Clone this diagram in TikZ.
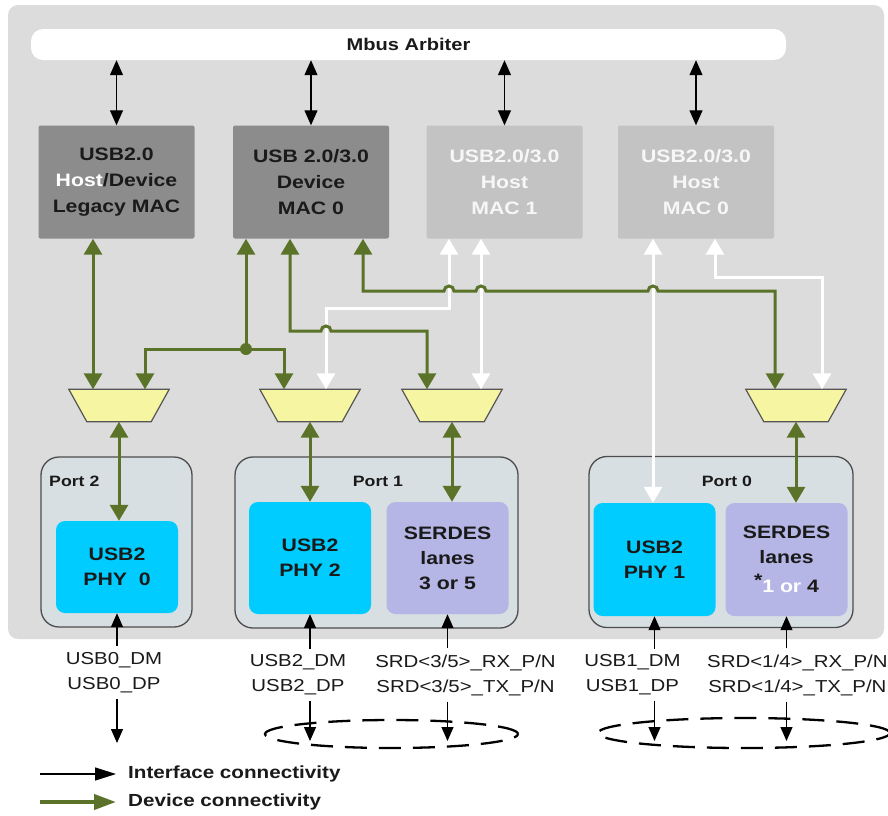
\documentclass[tikz,border=0pt]{standalone}
\usepackage{fontspec}
\setmainfont{Liberation Sans}
\newfontfamily\widefont{Liberation Sans}[FakeStretch=1.18]
\usetikzlibrary{arrows.meta,calc,shapes.geometric}

\definecolor{boardgray}{HTML}{DCDCDC}
\definecolor{macdark}{HTML}{8C8C8C}
\definecolor{maclight}{HTML}{C3C3C3}
\definecolor{portfill}{HTML}{D7DFE2}
\definecolor{portline}{HTML}{4D4D4D}
\definecolor{phycyan}{HTML}{00CCFF}
\definecolor{serdesfill}{HTML}{B5B5E6}
\definecolor{muxfill}{HTML}{F6F6A2}
\definecolor{muxline}{HTML}{555555}
\definecolor{devgreen}{HTML}{5A7328}
\definecolor{textdark}{HTML}{1A1A1A}

\tikzset{
  gtip/.tip={Triangle[width=18pt,length=16pt]},
  btip/.tip={Triangle[width=12pt,length=14pt]},
  mtip/.tip={Triangle[width=13pt,length=15pt]},
}

\begin{document}
\begin{tikzpicture}[x=1pt,y=-1pt,
  boxfont/.style={font=\widefont\fontsize{18}{25}\selectfont\bfseries},
  board/.style={fill=boardgray, rounded corners=10pt, minimum width=876pt, minimum height=634pt, inner sep=0pt},
  arbiter/.style={fill=white, rounded corners=12pt, minimum width=755pt, minimum height=31pt, inner sep=0pt,
    font=\widefont\fontsize{17}{17}\selectfont\bfseries, text=textdark},
  mac/.style={rounded corners=2pt, minimum width=156pt, minimum height=113pt, inner sep=0pt, align=center,
    font=\widefont\fontsize{18}{26}\selectfont\bfseries},
  macd/.style={mac, fill=macdark, text=textdark},
  macl/.style={mac, fill=maclight, text=white!94!gray},
  port/.style={fill=portfill, draw=portline, line width=1.3pt, rounded corners=18pt, inner sep=0pt},
  portlabel/.style={font=\widefont\fontsize{15}{15}\selectfont\bfseries, text=textdark, inner sep=0pt},
  phy/.style={fill=phycyan, rounded corners=9pt, inner sep=0pt, align=center, boxfont, text=textdark, minimum width=122pt},
  lane/.style={phy, fill=serdesfill},
  muxbox/.style={minimum width=100pt, minimum height=32pt, inner sep=0pt},
  muxshape/.style={fill=muxfill, draw=muxline, line width=1.2pt, line join=miter},
  gline/.style={draw=devgreen, line width=3pt, gtip-gtip},
  wline/.style={draw=white, line width=3pt, gtip-gtip},
  bline/.style={draw=black, line width=1.2pt, btip-btip},
  busline/.style={draw=black, line width=1.2pt, mtip-mtip},
  sig/.style={font=\widefont\fontsize{17.3}{25}\selectfont, text=textdark, align=center, inner sep=6pt},
  ring/.style={ellipse, draw=black, line width=2.3pt, dash pattern=on 22pt off 12pt, inner sep=0pt},
  keytext/.style={font=\widefont\fontsize{17.5}{17.5}\selectfont\bfseries, text=textdark, inner sep=0pt, anchor=west},
]
\fill[white] (0,0) rectangle (888,815);
\useasboundingbox (0,0) rectangle (888,815);

% chip outline and bus arbiter
\node[board] (board) at (446,322) {};
\node[arbiter] (mbus) at (408.5,44.5) {Mbus Arbiter};

% controller blocks
\node[macd] (legacy) at (116.5,182) {USB2.0\\{\color{white}Host}/Device\\Legacy MAC};
\node[macd] (dev0) at (311,182) {USB 2.0/3.0\\Device\\MAC 0};
\node[macl] (host1) at (504.5,182) {USB2.0/3.0\\Host\\MAC 1};
\node[macl] (host0) at (696,182) {USB2.0/3.0\\Host\\MAC 0};

% bus links
\foreach \m in {legacy,dev0,host1,host0}
  \draw[busline] (\m.north |- mbus.south) -- (\m.north);

% ports
\node[port, minimum width=151pt, minimum height=170pt] (port2) at (116.5,542) {};
\node[port, minimum width=283pt, minimum height=171pt] (port1) at (376.5,542.5) {};
\node[port, minimum width=264pt, minimum height=171pt] (port0) at (721,542) {};
\node[portlabel, anchor=west] (port2lbl) at (49,481) {Port 2};
\node[portlabel] (port1lbl) at (378,481) {Port 1};
\node[portlabel] (port0lbl) at (727,481) {Port 0};

% PHYs and SERDES lanes
\node[phy, minimum height=92pt] (phy0) at (117,567) {USB2\\PHY\ \ 0};
\node[phy, minimum height=112pt] (phy2) at (310,558) {USB2\\PHY 2};
\node[lane, minimum height=112pt] (lane35) at (447.5,558) {SERDES\\lanes\\3 or 5};
\node[phy, minimum height=113pt] (phy1) at (654.5,559.5) {USB2\\PHY 1};
\node[lane, minimum height=113pt] (lane14) at (786.5,559.5) {SERDES\\lanes\\[4pt]\raisebox{6pt}{*}{\color{white}1 or }4};

% multiplexers
\node[muxbox] (muxA) at (119,405.5) {};
\node[muxbox] (muxB) at (310,405.5) {};
\node[muxbox] (muxC) at (452,405.5) {};
\node[muxbox] (muxD) at (796,405.5) {};
\foreach \m in {muxA,muxB,muxC,muxD}
  \draw[muxshape] (\m.north west) -- (\m.north east) -- ([xshift=-18pt]\m.south east)
    -- ([xshift=18pt]\m.south west) -- cycle;

% controller pins
\coordinate (lgA) at ([xshift=-23.5pt]legacy.south);
\coordinate (d0A) at ([xshift=-65pt]dev0.south);
\coordinate (d0B) at ([xshift=-21pt]dev0.south);
\coordinate (d0C) at ([xshift=52pt]dev0.south);
\coordinate (h1A) at ([xshift=-55.5pt]host1.south);
\coordinate (h1B) at ([xshift=-23.5pt]host1.south);
\coordinate (h0A) at ([xshift=-43pt]host0.south);
\coordinate (h0B) at ([xshift=19pt]host0.south);
% multiplexer inputs
\coordinate (mA1) at ([xshift=-26pt]muxA.north);
\coordinate (mA2) at ([xshift=26pt]muxA.north);
\coordinate (mB1) at ([xshift=-26pt]muxB.north);
\coordinate (mB2) at ([xshift=16pt]muxB.north);
\coordinate (mC1) at ([xshift=-25pt]muxC.north);
\coordinate (mC2) at ([xshift=29pt]muxC.north);
\coordinate (mD1) at ([xshift=-21pt]muxD.north);
\coordinate (mD2) at ([xshift=26pt]muxD.north);
% routing rows
\coordinate (rowJ) at (0,349);
\coordinate (rowG1) at (0,331);
\coordinate (rowG2) at (0,291);
\coordinate (rowW1) at (0,308);
\coordinate (rowW2) at (0,277);

% host links (white)
\draw[wline] (h1A) |- (mB2 |- rowW1) -- (mB2);
\draw[wline] (h1B) -- (mC2);
\draw[wline] (h0A) -- (h0A |- phy1.north);
\draw[wline] (h0B) |- (mD2 |- rowW2) -- (mD2);

% device links (green), hopping over the host links
\draw[gline] (lgA) -- (mA1);
\coordinate (junc) at (d0A |- rowJ);
\draw[gline, -gtip] (junc) -- (d0A);
\draw[gline, -gtip] (junc) -| (mA2);
\draw[gline, -gtip] (junc) -| (mB1);
\fill[devgreen] (junc) circle[radius=6];
\draw[gline] (d0B) |- ($(mB2 |- rowG1)+(-5,0)$) arc[start angle=180,end angle=360,radius=5] -| (mC1);
\draw[gline] (d0C) |- ($(h1A |- rowG2)+(-5,0)$) arc[start angle=180,end angle=360,radius=5]
  -- ($(h1B |- rowG2)+(-5,0)$) arc[start angle=180,end angle=360,radius=5]
  -- ($(h0A |- rowG2)+(-5,0)$) arc[start angle=180,end angle=360,radius=5] -| (mD1);

% multiplexer outputs to the PHYs
\draw[gline] (muxA.south) -- (muxA.south |- phy0.north);
\draw[gline] (muxB.south) -- (muxB.south |- phy2.north);
\draw[gline] (muxC.south) -- (muxC.south |- lane35.north);
\draw[gline] (muxD.south) -- (muxD.south |- lane14.north);

% external signals
\node[sig] (sig0) at (114,672.5) {USB0\_DM\\USB0\_DP};
\node[sig] (sig2) at (298,675) {USB2\_DM\\USB2\_DP};
\node[sig] (sig35) at (465.5,675) {SRD<3/5>\_RX\_P/N\\SRD<3/5>\_TX\_P/N};
\node[sig] (sig1) at (632.5,675) {USB1\_DM\\USB1\_DP};
\node[sig, anchor=west, inner xsep=0pt] (sig14) at (707,675) {SRD<1/4>\_RX\_P/N\\SRD<1/4>\_TX\_P/N};

\draw[bline, -btip] (phy0.south |- sig0.north) -- (phy0.south);
\draw[bline, -btip] (phy2.south |- sig2.north) -- (phy2.south);
\draw[bline, -btip] (lane35.south |- sig35.north) -- (lane35.south);
\draw[bline, -btip] (phy1.south |- sig1.north) -- (phy1.south);
\draw[bline, -btip] (lane14.south |- sig14.north) -- (lane14.south);

% connector groups
\node[ring, minimum width=253pt, minimum height=28pt] (ringA) at (391.5,734) {};
\node[ring, minimum width=292pt, minimum height=30pt] (ringB) at (744,733) {};
\coordinate (dropY) at (0,743);
\coordinate (ringAtip) at ($(ringA.center)+(0,7)$);
\coordinate (ringBtip) at ($(ringB.center)+(0,8)$);

\draw[bline, -btip] (phy0.south |- sig0.south) -- (phy0.south |- dropY);
\draw[bline, -btip] (phy2.south |- sig2.south) -- (phy2.south |- ringAtip);
\draw[bline, -btip] (lane35.south |- sig35.south) -- (lane35.south |- ringAtip);
\draw[bline, -btip] (phy1.south |- sig1.south) -- (phy1.south |- ringBtip);
\draw[bline, -btip] (lane14.south |- sig14.south) -- (lane14.south |- ringBtip);

% key
\node[keytext] (keyA) at (128,774) {Interface connectivity};
\node[keytext] (keyB) at (128,802) {Device connectivity};
\coordinate (keyA0) at (40,774);
\coordinate (keyB0) at (40,802);
\draw[black, line width=1.3pt, -{Triangle[width=13pt,length=21pt]}] (keyA0) -- ([xshift=-12pt]keyA.west);
\draw[devgreen, line width=4pt, -{Triangle[width=15pt,length=22pt]}] (keyB0) -- ([xshift=-12pt]keyB.west);
\end{tikzpicture}
\end{document}
